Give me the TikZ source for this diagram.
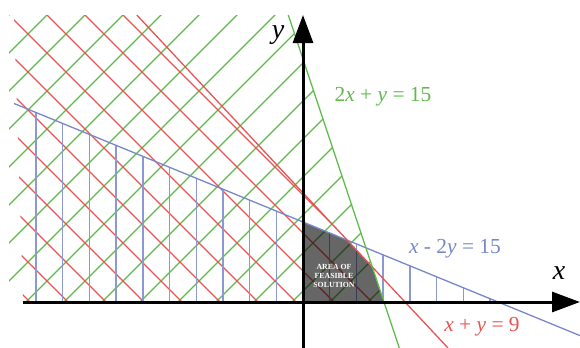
\documentclass[tikz,border=0pt]{standalone}
\usepackage{fontspec}
\setmainfont{Liberation Serif}
\usepackage{xcolor}
\definecolor{lineGreen}{RGB}{95,185,75}
\definecolor{lineRed}{RGB}{230,85,85}
\definecolor{lineBlue}{RGB}{120,135,200}
\usepackage{tikz}
\usetikzlibrary{arrows.meta}

\begin{document}
\begin{tikzpicture}[x=0.5pt, y=-0.5pt,
  hatch/.style={line width=0.6pt},
  bound/.style={line width=0.65pt},
  axis/.style={line width=1.5pt, -{Triangle[length=14pt,width=10pt]}},
  eqlabel/.style={font=\fontsize{10.7}{12}\selectfont}]
  \useasboundingbox (0,0) rectangle (580,348);
  % corners of the feasible area
  \coordinate (O) at (303,302);
  \coordinate (blueY) at (303,222);
  \coordinate (blueRed) at (347.2,240.1);
  \coordinate (redGreen) at (372.4,267.2);
  \coordinate (greenX) at (384,302);
  % green hatch, 2x + y <= 15
  \begin{scope}
    \clip (9,15) -- (288.3,15) -- (greenX) -- (9,302) -- cycle;
    \foreach \c in {0,...,18}
      \draw[hatch, lineGreen] ({24+38*\c},0) -- ({24+38*\c-348},348);
  \end{scope}
  % red hatch, x + y <= 9
  \begin{scope}
    \clip (14,15) -- (136.8,15) -- (405,302) -- (23,302) -- cycle;
    \foreach \c in {-11,...,7}
      \draw[hatch, lineRed] ({-6-38*\c},0) -- ({342-38*\c},348);
  \end{scope}
  % blue hatch, x - 2y <= 15
  \begin{scope}
    \clip (14,103.5) -- (498.1,302) -- (14,302) -- cycle;
    \foreach \i in {0,...,17}
      \draw[line width=0.7pt, lineBlue!85] ({36+26.7*\i},0) -- ({36+26.7*\i},302);
  \end{scope}
  % feasible area
  \fill[black, fill opacity=0.6] (O) -- (blueY) -- (blueRed) -- (redGreen) -- (greenX) -- cycle;
  \node[white, font=\fontsize{3.9}{4.6}\selectfont\bfseries, align=center] (feasible) at (334,276)
    {AREA OF\\FEASIBLE\\SOLUTION};
  % boundary lines
  \draw[bound, lineBlue] (14,103.5) -- (580,335.6);
  \draw[bound, lineRed] (136.8,15) -- (448,348);
  \draw[bound, lineGreen] (288.3,15) -- (399.3,348);
  % axes
  \draw[axis] (23,302) -- (580,302);
  \draw[axis] (303,348) -- (303,15);
  \node[font=\fontsize{14}{16}\selectfont\itshape] (xlabel) at (559,273) {x};
  \node[font=\fontsize{14}{16}\selectfont\itshape] (ylabel) at (278,35) {y};
  % equations
  \node[eqlabel, lineGreen] (eqGreen) at (383,97) {2\textit{x} + \textit{y} = 15};
  \node[eqlabel, lineBlue] (eqBlue) at (455,249) {\textit{x} - 2\textit{y} = 15};
  \node[eqlabel, lineRed] (eqRed) at (482,327) {\textit{x} + \textit{y} = 9};
\end{tikzpicture}
\end{document}
